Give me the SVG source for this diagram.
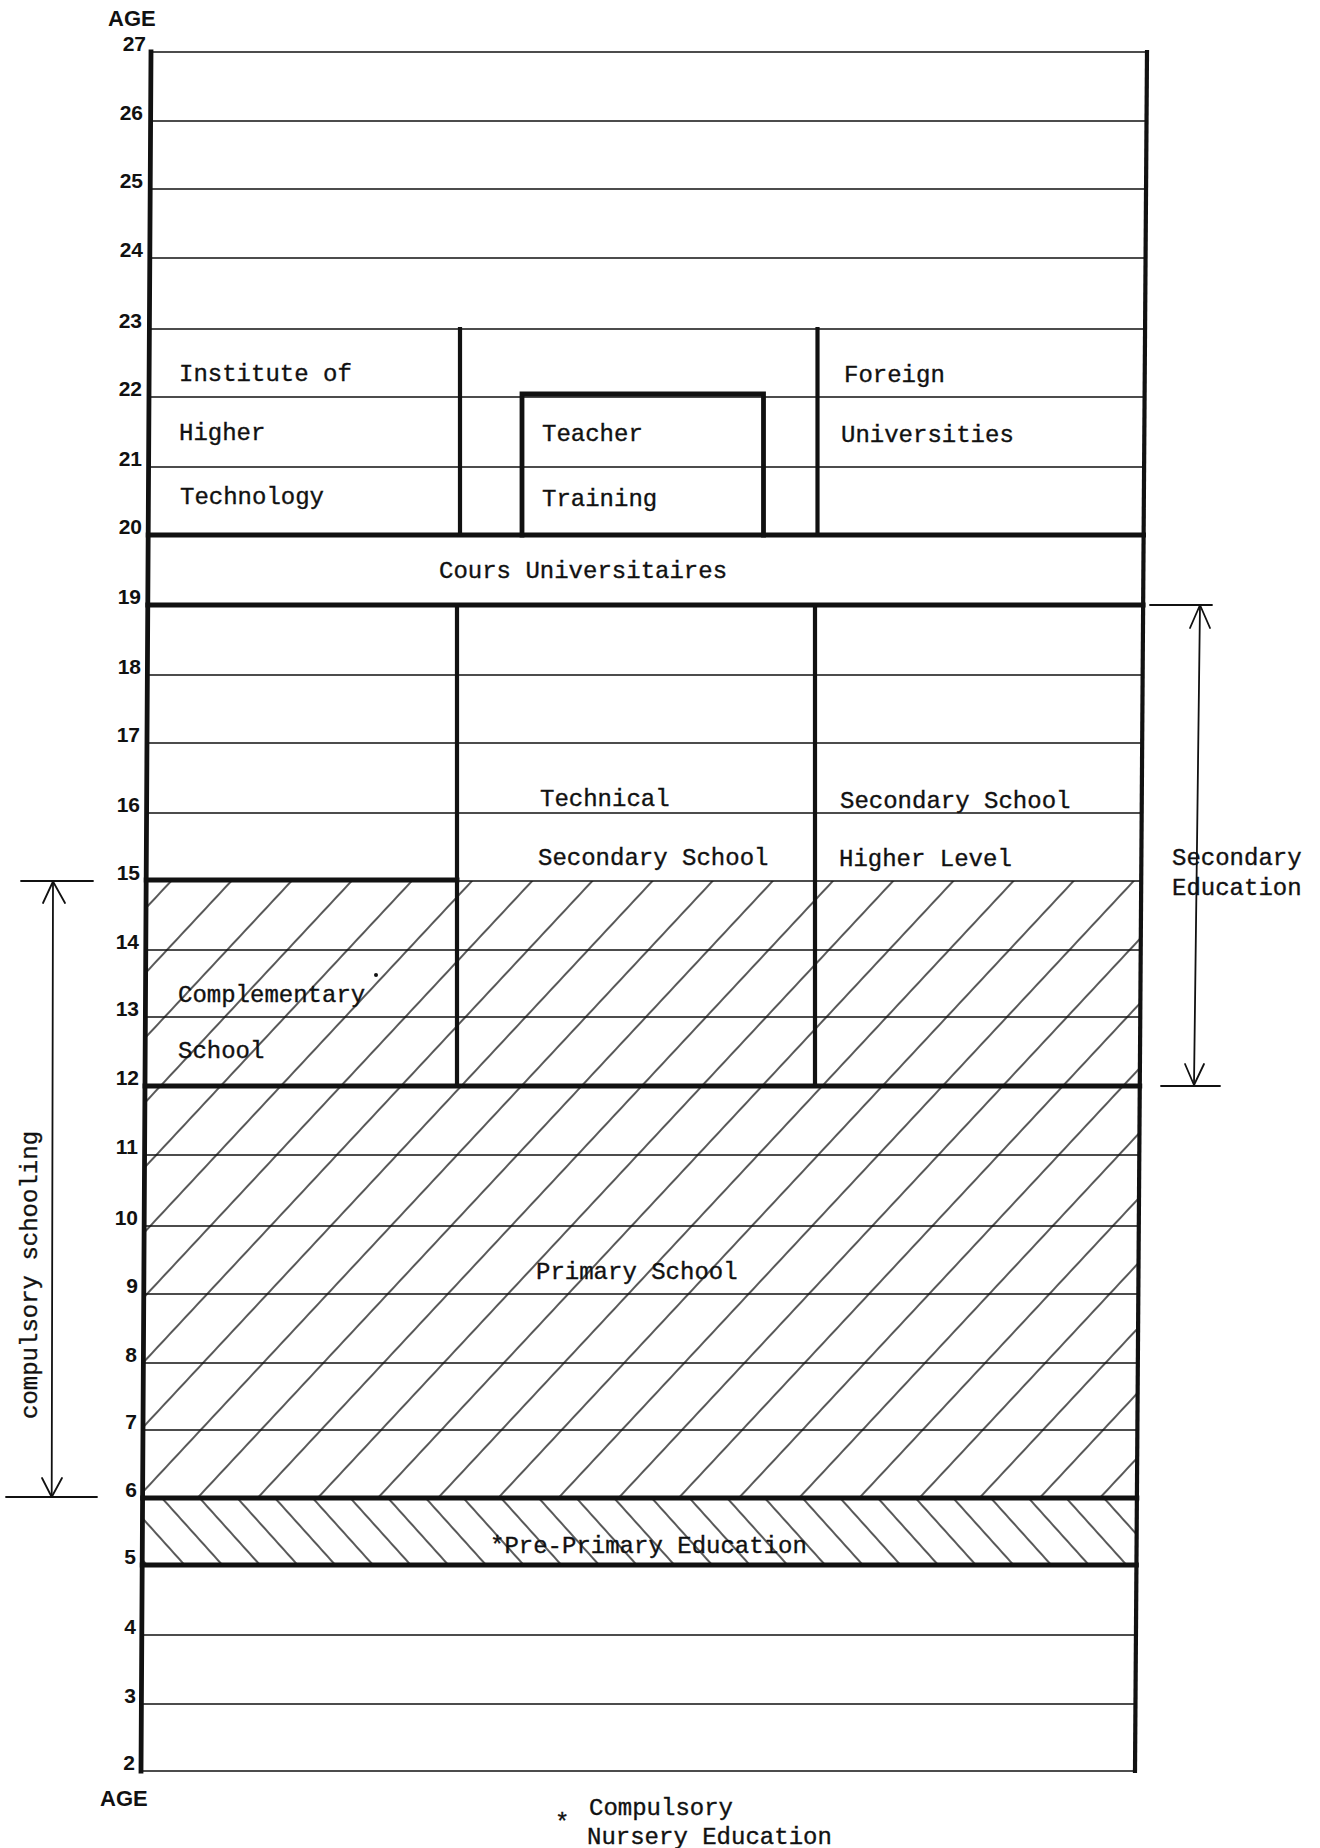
<svg xmlns="http://www.w3.org/2000/svg" width="1320" height="1848" viewBox="0 0 1320 1848">
<style>
.thin{stroke:#111;stroke-width:1.7;fill:none;stroke-linecap:square}
.thick{stroke:#111;stroke-width:4.8;fill:none;stroke-linecap:square}
.vert{stroke:#111;stroke-width:4.2;fill:none;stroke-linecap:square}
.arr{stroke:#111;stroke-width:1.8;fill:none;stroke-linecap:round;stroke-linejoin:round}
.lbl{font-family:"Liberation Mono","DejaVu Sans Mono",monospace;font-size:24px;fill:#111;stroke:#111;stroke-width:0.35}
.age{font-family:"Liberation Sans",Arial,sans-serif;font-weight:bold;font-size:21px;fill:#111;text-anchor:end}
.agehdr{font-family:"Liberation Sans",Arial,sans-serif;font-weight:bold;font-size:22px;fill:#111}
</style>
<defs>
<pattern id="fwd" patternUnits="userSpaceOnUse" width="44" height="44" patternTransform="rotate(43)">
<line x1="22" y1="-1" x2="22" y2="45" stroke="#111" stroke-width="1.4"/>
</pattern>
<pattern id="bwd" patternUnits="userSpaceOnUse" width="28" height="28" patternTransform="rotate(-42)">
<line x1="14" y1="-1" x2="14" y2="29" stroke="#111" stroke-width="1.4"/>
</pattern>
</defs>
<rect x="0" y="0" width="1320" height="1848" fill="#fff"/>

<g id="hatching">
<polygon points="146.2,881 1141.2,881 1139.8,1086 145,1086" fill="url(#fwd)"/>
<polygon points="145,1086 1139.8,1086 1136.9,1498 142.6,1498" fill="url(#fwd)"/>
<polygon points="142.6,1498 1136.9,1498 1136.4,1565 142.2,1565" fill="url(#bwd)"/>
</g>

<g id="grid">
<line class="thin" x1="151" y1="52" x2="1147" y2="52"/>
<line class="thin" x1="150.6" y1="121" x2="1146.5" y2="121"/>
<line class="thin" x1="150.2" y1="189" x2="1146" y2="189"/>
<line class="thin" x1="149.8" y1="258" x2="1145.6" y2="258"/>
<line class="thin" x1="149.4" y1="329" x2="1145.1" y2="329"/>
<line class="thin" x1="149" y1="397" x2="1144.6" y2="397"/>
<line class="thin" x1="148.6" y1="467" x2="1144.1" y2="467"/>
<line class="thick" x1="148.2" y1="535" x2="1143.6" y2="535"/>
<line class="thick" x1="147.8" y1="605" x2="1143.1" y2="605"/>
<line class="thin" x1="147.4" y1="675" x2="1142.7" y2="675"/>
<line class="thin" x1="147" y1="743" x2="1142.2" y2="743"/>
<line class="thin" x1="146.6" y1="813" x2="1141.7" y2="813"/>
<line class="thick" x1="146.2" y1="880" x2="457" y2="880"/>
<line class="thin" x1="457" y1="881" x2="1141.2" y2="881"/>
<line class="thin" x1="145.8" y1="950" x2="1140.7" y2="950"/>
<line class="thin" x1="145.4" y1="1017" x2="1140.3" y2="1017"/>
<line class="thick" x1="145" y1="1086" x2="1139.8" y2="1086"/>
<line class="thin" x1="144.6" y1="1155" x2="1139.3" y2="1155"/>
<line class="thin" x1="144.2" y1="1226" x2="1138.8" y2="1226"/>
<line class="thin" x1="143.8" y1="1294" x2="1138.3" y2="1294"/>
<line class="thin" x1="143.4" y1="1363" x2="1137.8" y2="1363"/>
<line class="thin" x1="143" y1="1430" x2="1137.4" y2="1430"/>
<line class="thick" x1="142.6" y1="1498" x2="1136.9" y2="1498"/>
<line class="thick" x1="142.2" y1="1565" x2="1136.4" y2="1565"/>
<line class="thin" x1="141.8" y1="1635" x2="1136" y2="1635"/>
<line class="thin" x1="141.4" y1="1704" x2="1135.5" y2="1704"/>
<line class="thin" x1="141" y1="1771" x2="1135" y2="1771"/>
<line class="thick" x1="151" y1="52" x2="141" y2="1771"/>
<line class="vert" x1="1147" y1="52" x2="1135" y2="1771"/>
</g>

<g id="age-scale">
<text class="agehdr" x="108" y="26">AGE</text>
<text class="age" x="146" y="51">27</text>
<text class="age" x="143" y="120">26</text>
<text class="age" x="143" y="188">25</text>
<text class="age" x="143" y="257">24</text>
<text class="age" x="142" y="328">23</text>
<text class="age" x="142" y="396">22</text>
<text class="age" x="142" y="466">21</text>
<text class="age" x="142" y="534">20</text>
<text class="age" x="141" y="604">19</text>
<text class="age" x="141" y="674">18</text>
<text class="age" x="140" y="742">17</text>
<text class="age" x="140" y="812">16</text>
<text class="age" x="140" y="880">15</text>
<text class="age" x="139" y="949">14</text>
<text class="age" x="139" y="1016">13</text>
<text class="age" x="139" y="1085">12</text>
<text class="age" x="138" y="1154">11</text>
<text class="age" x="138" y="1225">10</text>
<text class="age" x="138" y="1293">9</text>
<text class="age" x="137" y="1362">8</text>
<text class="age" x="137" y="1429">7</text>
<text class="age" x="137" y="1497">6</text>
<text class="age" x="136" y="1564">5</text>
<text class="age" x="136" y="1634">4</text>
<text class="age" x="136" y="1703">3</text>
<text class="age" x="135" y="1770">2</text>
<text class="agehdr" x="100" y="1806">AGE</text>
</g>

<g id="institute-higher-technology">
<line class="vert" x1="460" y1="329" x2="460" y2="535"/>
<text class="lbl" x="179" y="381">Institute of</text>
<text class="lbl" x="179" y="440">Higher</text>
<text class="lbl" x="180" y="504">Technology</text>
</g>

<g id="teacher-training">
<path class="thick" d="M522,535 L522,394 L763.5,394 L763.5,535"/>
<text class="lbl" x="542" y="441">Teacher</text>
<text class="lbl" x="542" y="506">Training</text>
</g>

<g id="foreign-universities">
<line class="vert" x1="817.5" y1="329" x2="817.5" y2="535"/>
<text class="lbl" x="844" y="382">Foreign</text>
<text class="lbl" x="841" y="442">Universities</text>
</g>

<g id="cours-universitaires">
<text class="lbl" x="439" y="578">Cours Universitaires</text>
</g>

<g id="technical-secondary-school">
<line class="vert" x1="457" y1="605" x2="457" y2="1086"/>
<text class="lbl" x="540" y="806">Technical</text>
<text class="lbl" x="538" y="865">Secondary School</text>
</g>

<g id="secondary-school-higher-level">
<line class="vert" x1="815" y1="605" x2="815" y2="1086"/>
<text class="lbl" x="840" y="808">Secondary School</text>
<text class="lbl" x="839" y="866">Higher Level</text>
</g>

<g id="complementary-school">
<text class="lbl" x="178" y="1002">Complementary</text>
<text class="lbl" x="178" y="1058">School</text>
<circle cx="376" cy="975" r="2" fill="#111"/>
</g>

<g id="primary-school">
<text class="lbl" x="536" y="1279">Primary School</text>
</g>

<g id="pre-primary-education">
<text class="lbl" x="490" y="1553">*Pre-Primary Education</text>
</g>

<g id="connectors">
<g id="secondary-education-span">
<line class="arr" x1="1150" y1="605" x2="1212" y2="605"/>
<line class="arr" x1="1161" y1="1086" x2="1220" y2="1086"/>
<line class="arr" x1="1200" y1="605" x2="1194" y2="1085"/>
<polyline class="arr" points="1190,628 1200,605 1210,628"/>
<polyline class="arr" points="1185,1064 1194,1085 1204,1064"/>
</g>
<g id="compulsory-schooling-span">
<line class="arr" x1="21" y1="881" x2="93" y2="881"/>
<line class="arr" x1="6" y1="1497" x2="97" y2="1497"/>
<line class="arr" x1="53" y1="881" x2="51.7" y2="1497"/>
<polyline class="arr" points="43,903 53,881.5 65,903"/>
<polyline class="arr" points="42,1478 51.7,1497 62,1478"/>
</g>
</g>

<g id="secondary-education-label">
<text class="lbl" x="1172" y="865">Secondary</text>
<text class="lbl" x="1172" y="895">Education</text>
</g>

<g id="compulsory-schooling-label">
<text class="lbl" transform="translate(37,1275) rotate(-90)" text-anchor="middle">compulsory schooling</text>
</g>

<g id="footnote">
<text class="lbl" x="555" y="1830">*</text>
<text class="lbl" x="589" y="1815">Compulsory</text>
<text class="lbl" x="587" y="1844">Nursery Education</text>
</g>
</svg>
